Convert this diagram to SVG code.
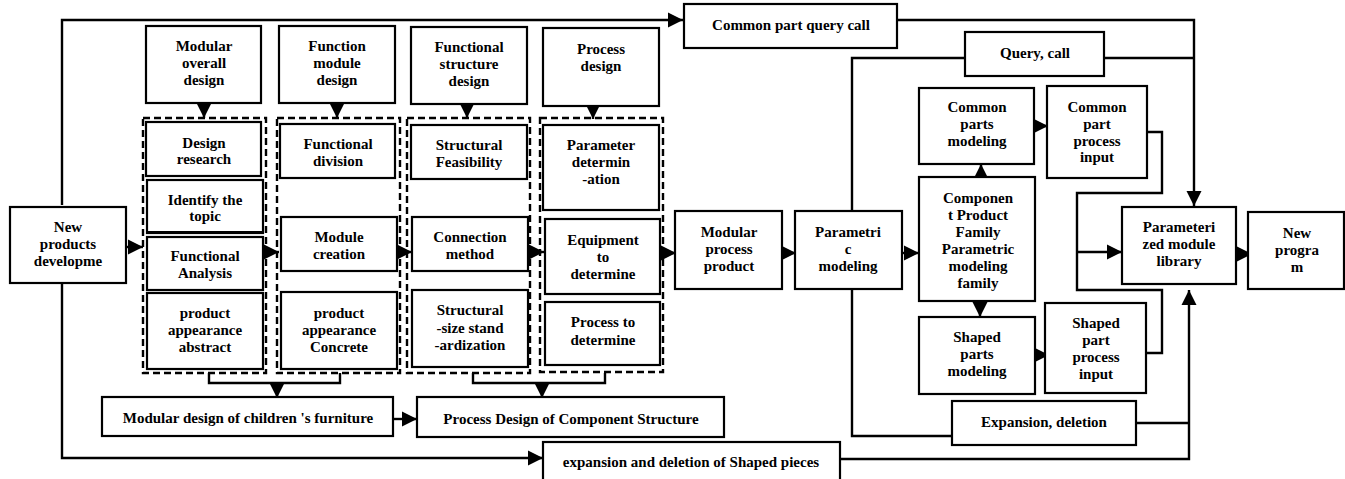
<svg xmlns="http://www.w3.org/2000/svg" width="1345" height="479" viewBox="0 0 1345 479">
<style>
.b{fill:#fff;stroke:#000;stroke-width:2.2}
.d{fill:none;stroke:#000;stroke-width:2.4;stroke-dasharray:7 4}
.c{fill:none;stroke:#000;stroke-width:2.4}
text{font-family:"Liberation Serif","Times New Roman",serif;font-weight:bold;font-size:15px;text-anchor:middle;fill:#000}
</style>
<defs>
<marker id="a" markerUnits="userSpaceOnUse" markerWidth="16" markerHeight="16" viewBox="0 0 16 16" refX="15" refY="8" orient="auto">
<path d="M0,0.5 L15,8 L0,15.5 Z" fill="#000"/>
</marker>
</defs>
<rect width="1345" height="479" fill="#fff"/>
<g id="connectors">
<path class="c" d="M62,205 V20 H683" marker-end="url(#a)"/>
<path class="c" d="M62,283 V458 H543" marker-end="url(#a)"/>
<path class="c" d="M126,247 H143" marker-end="url(#a)"/>
<path class="c" d="M266,252 H279" marker-end="url(#a)"/>
<path class="c" d="M400,252 H412" marker-end="url(#a)"/>
<path class="c" d="M530,252 H544" marker-end="url(#a)"/>
<path class="c" d="M663,253 H676" marker-end="url(#a)"/>
<path class="c" d="M782,253 H796" marker-end="url(#a)"/>
<path class="c" d="M902,253 H919" marker-end="url(#a)"/>
<path class="c" d="M981,177 V164" marker-end="url(#a)"/>
<path class="c" d="M980,301 V317" marker-end="url(#a)"/>
<path class="c" d="M1034,126 H1048" marker-end="url(#a)"/>
<path class="c" d="M1035,355 H1049" marker-end="url(#a)"/>
<path class="c" d="M1236,254 H1252" marker-end="url(#a)"/>
<path class="c" d="M897,20 H1194 V206" marker-end="url(#a)"/>
<path class="c" d="M965,58 H852 V211"/>
<path class="c" d="M1104,58 H1194"/>
<path class="c" d="M1147,132 H1162 V193 H1077 V290 H1162 V353 H1146"/>
<path class="c" d="M1077,252 H1122" marker-end="url(#a)"/>
<path class="c" d="M852,289 V436 H952"/>
<path class="c" d="M1136,423 H1190"/>
<path class="c" d="M840,459 H1189 V290" marker-end="url(#a)"/>
<path class="c" d="M209,373 V383 H340 V373"/>
<path class="c" d="M277,383 V398" marker-end="url(#a)"/>
<path class="c" d="M473,373 V383 H605 V373"/>
<path class="c" d="M542,383 V398" marker-end="url(#a)"/>
<path class="c" d="M204,103 V118" marker-end="url(#a)"/>
<path class="c" d="M337,103 V118" marker-end="url(#a)"/>
<path class="c" d="M467,104 V118" marker-end="url(#a)"/>
<path class="c" d="M593,106 V119" marker-end="url(#a)"/>
<path class="c" d="M393,419 H417" marker-end="url(#a)"/>
</g>
<g id="group1"><rect class="d" x="143" y="118" width="123" height="255"/></g>
<g id="group2"><rect class="d" x="277" y="118" width="123" height="255"/></g>
<g id="group3"><rect class="d" x="407" y="118" width="123" height="255"/></g>
<g id="group4"><rect class="d" x="540" y="118" width="123" height="254"/></g>
<g id="new-products"><rect class="b" x="10" y="207" width="116" height="76"/><text x="68" y="232">New</text><text x="68" y="249">products</text><text x="68" y="266">developme</text></g>
<g id="modular-overall"><rect class="b" x="146" y="26" width="115" height="77"/><text x="204" y="51">Modular</text><text x="204" y="68">overall</text><text x="204" y="85">design</text></g>
<g id="function-module"><rect class="b" x="279" y="26" width="116" height="77"/><text x="337" y="51">Function</text><text x="337" y="68">module</text><text x="337" y="85">design</text></g>
<g id="functional-structure"><rect class="b" x="411" y="27" width="116" height="77"/><text x="469" y="52">Functional</text><text x="469" y="69">structure</text><text x="469" y="86">design</text></g>
<g id="process-design"><rect class="b" x="543" y="28" width="116" height="78"/><text x="601" y="54">Process</text><text x="601" y="71">design</text></g>
<g id="design-research"><rect class="b" x="146" y="122" width="115" height="54"/><text x="204" y="148">Design</text><text x="204" y="164">research</text></g>
<g id="identify-topic"><rect class="b" x="147" y="180" width="116" height="53"/><rect x="147" y="231" width="116" height="3" fill="#000"/><text x="205" y="205">Identify the</text><text x="205" y="221">topic</text></g>
<g id="functional-analysis"><rect class="b" x="147" y="237" width="116" height="53"/><text x="205" y="261">Functional</text><text x="205" y="278">Analysis</text></g>
<g id="appearance-abstract"><rect class="b" x="147" y="293" width="116" height="76"/><text x="205" y="318">product</text><text x="205" y="335">appearance</text><text x="205" y="352">abstract</text></g>
<g id="functional-division"><rect class="b" x="280" y="124" width="115" height="54"/><text x="338" y="149">Functional</text><text x="338" y="166">division</text></g>
<g id="module-creation"><rect class="b" x="281" y="217" width="116" height="54"/><text x="339" y="242">Module</text><text x="339" y="259">creation</text></g>
<g id="appearance-concrete"><rect class="b" x="281" y="292" width="116" height="77"/><text x="339" y="318">product</text><text x="339" y="335">appearance</text><text x="339" y="352">Concrete</text></g>
<g id="structural-feasibility"><rect class="b" x="411" y="125" width="116" height="54"/><text x="469" y="150">Structural</text><text x="469" y="167">Feasibility</text></g>
<g id="connection-method"><rect class="b" x="412" y="217" width="116" height="54"/><text x="470" y="242">Connection</text><text x="470" y="259">method</text></g>
<g id="size-standardization"><rect class="b" x="412" y="290" width="116" height="77"/><text x="470" y="315">Structural</text><text x="470" y="333">-size stand</text><text x="470" y="350">-ardization</text></g>
<g id="parameter-determination"><rect class="b" x="543" y="125" width="116" height="85"/><text x="601" y="150">Parameter</text><text x="601" y="167">determin</text><text x="601" y="184">-ation</text></g>
<g id="equipment"><rect class="b" x="545" y="219" width="115" height="75"/><text x="603" y="245">Equipment</text><text x="603" y="262">to</text><text x="603" y="279">determine</text></g>
<g id="process-to-determine"><rect class="b" x="545" y="302" width="115" height="63"/><text x="603" y="327">Process to</text><text x="603" y="345">determine</text></g>
<g id="modular-process-product"><rect class="b" x="675" y="211" width="107" height="78"/><text x="729" y="237">Modular</text><text x="729" y="254">process</text><text x="729" y="271">product</text></g>
<g id="parametric-modeling"><rect class="b" x="795" y="211" width="107" height="78"/><text x="848" y="237">Parametri</text><text x="848" y="254">c</text><text x="848" y="271">modeling</text></g>
<g id="common-part-query-call"><rect class="b" x="684" y="4" width="213" height="44"/><text x="791" y="30">Common part query call</text></g>
<g id="query-call"><rect class="b" x="965" y="32" width="139" height="44"/><text x="1035" y="58">Query, call</text></g>
<g id="common-parts-modeling"><rect class="b" x="919" y="88" width="115" height="76"/><text x="977" y="112">Common</text><text x="977" y="129">parts</text><text x="977" y="146">modeling</text></g>
<g id="common-part-process-input"><rect class="b" x="1047" y="86" width="100" height="92"/><text x="1097" y="112">Common</text><text x="1097" y="129">part</text><text x="1097" y="146">process</text><text x="1097" y="162">input</text></g>
<g id="component-family"><rect class="b" x="919" y="177" width="116" height="124"/><text x="978" y="203">Componen</text><text x="978" y="220">t Product</text><text x="978" y="237">Family</text><text x="978" y="254">Parametric</text><text x="978" y="271">modeling</text><text x="978" y="288">family</text></g>
<g id="shaped-parts-modeling"><rect class="b" x="919" y="317" width="116" height="77"/><text x="977" y="342">Shaped</text><text x="977" y="359">parts</text><text x="977" y="376">modeling</text></g>
<g id="shaped-part-process-input"><rect class="b" x="1045" y="303" width="101" height="90"/><text x="1096" y="328">Shaped</text><text x="1096" y="345">part</text><text x="1096" y="362">process</text><text x="1096" y="379">input</text></g>
<g id="expansion-deletion"><rect class="b" x="952" y="401" width="184" height="44"/><text x="1044" y="427">Expansion, deletion</text></g>
<g id="module-library"><rect class="b" x="1122" y="207" width="114" height="77"/><text x="1179" y="232">Parameteri</text><text x="1179" y="249">zed module</text><text x="1179" y="266">library</text></g>
<g id="new-program"><rect class="b" x="1248" y="212" width="96" height="77"/><text x="1297" y="238">New</text><text x="1297" y="255">progra</text><text x="1297" y="272">m</text></g>
<g id="childrens-furniture"><rect class="b" x="102" y="397" width="291" height="39"/><text x="248" y="423">Modular design of children 's furniture</text></g>
<g id="process-design-component"><rect class="b" x="417" y="397" width="307" height="40"/><text x="571" y="424">Process Design of Component Structure</text></g>
<g id="expansion-shaped-pieces"><rect class="b" x="543" y="442" width="297" height="42"/><text x="691" y="467">expansion and deletion of Shaped pieces</text></g>
</svg>
